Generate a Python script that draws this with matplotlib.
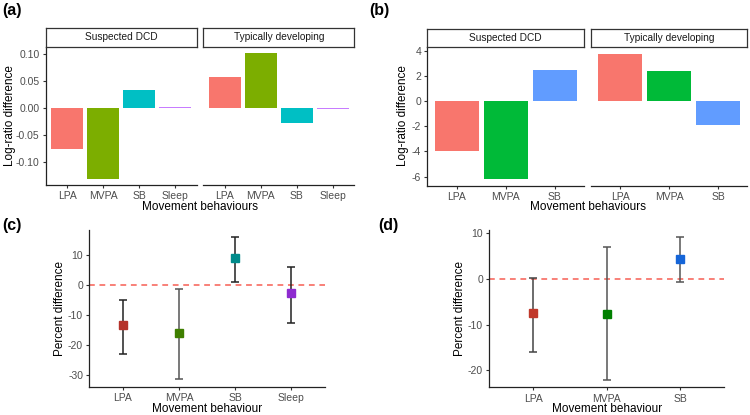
import numpy as np
import matplotlib
matplotlib.use("Agg")
import matplotlib.pyplot as plt

plt.rcParams['font.family'] = ['Liberation Sans', 'DejaVu Sans']
plt.rcParams['axes.unicode_minus'] = False

# --- data ---
groups = ["Suspected DCD", "Typically developing"]

a_cats = ["LPA", "MVPA", "SB", "Sleep"]
a_dcd = [-0.076, -0.1315, 0.0333, 0.0016]
a_td = [0.0585, 0.1024, -0.0278, -0.002]
a_colors = ["#F8766D", "#7CAE00", "#00BFC4", "#C77CFF"]

b_cats = ["LPA", "MVPA", "SB"]
b_dcd = [-3.98, -6.22, 2.44]
b_td = [3.76, 2.36, -1.91]
b_colors = ["#F8766D", "#00BA38", "#619CFF"]

c_cats = ["LPA", "MVPA", "SB", "Sleep"]
c_est = [-13.5, -16.2, 8.8, -2.9]
c_lo = [-22.9, -31.5, 1.0, -12.6]
c_hi = [-5.05, -1.4, 15.8, 6.0]
c_colors = ["#B5322A", "#3F7F00", "#008B8B", "#8E2BD0"]
c_bar_colors = ["#222222", "#555555", "#222222", "#222222"]

d_cats = ["LPA", "MVPA", "SB"]
d_est = [-7.5, -7.66, 4.44]
d_lo = [-15.9, -22.2, -0.58]
d_hi = [0.3, 7.07, 9.26]
d_colors = ["#C0392B", "#008000", "#1565D8"]
d_bar_colors = ["#444444", "#555555", "#555555"]

W, H = 750, 415
fig = plt.figure(figsize=(W / 100, H / 100), dpi=100)


def box(x0, y0, x1, y1):
    return [x0 / W, 1 - y1 / H, (x1 - x0) / W, (y1 - y0) / H]


def style(ax, left=True):
    for s in ["top", "right"]:
        ax.spines[s].set_visible(False)
    ax.spines["left"].set_visible(left)
    for s in ["left", "bottom"]:
        ax.spines[s].set_linewidth(0.9)
        ax.spines[s].set_color("#222222")
    ax.tick_params(length=2.5, width=0.8, color="#333333", labelsize=7.5,
                   labelcolor="#4D4D4D", pad=2)
    if not left:
        ax.tick_params(axis="y", left=False, labelleft=False)


def strip(x0, x1, y0, y1, label):
    s = fig.add_axes(box(x0, y0, x1, y1))
    s.set_xticks([]); s.set_yticks([])
    for sp in s.spines.values():
        sp.set_linewidth(0.9)
        sp.set_color("#333333")
    s.text(0.5, 0.5, label, ha="center", va="center", fontsize=7.3, color="#1A1A1A")


def facet_bars(x0, x1, y0, y1, cats, vals, colors, ylim, left):
    ax = fig.add_axes(box(x0, y0, x1, y1))
    x = np.arange(len(cats))
    ax.bar(x, vals, width=0.9, color=colors, edgecolor="none")
    ax.set_xlim(-0.6, len(cats) - 0.4)
    ax.set_ylim(*ylim)
    ax.set_xticks(x)
    ax.set_xticklabels(cats)
    style(ax, left)
    return ax


# (a)
ylim_a = (-0.142, 0.114)
ax = facet_bars(45.7, 196.7, 46.7, 185, a_cats, a_dcd, a_colors, ylim_a, True)
ax.set_yticks([-0.10, -0.05, 0.0, 0.05, 0.10])
ax.set_yticklabels(["%.2f" % v for v in [-0.10, -0.05, 0.0, 0.05, 0.10]])
facet_bars(203.3, 354.3, 46.7, 185, a_cats, a_td, a_colors, ylim_a, False)
strip(45.7, 196.7, 28.3, 46.7, groups[0])
strip(203.3, 354.3, 28.3, 46.7, groups[1])
fig.text(200 / W, 1 - 207 / H, "Movement behaviours", ha="center", va="center", fontsize=8.5)
fig.text(10 / W, 1 - 116 / H, "Log-ratio difference", ha="center", va="center",
         rotation=90, fontsize=8.5)
fig.text(2 / W, 1 - 11 / H, "(a)", ha="left", va="center", fontsize=11.5, fontweight="bold")

# (b)
ylim_b = (-6.73, 4.29)
ax = facet_bars(427.3, 584.3, 47, 185.7, b_cats, b_dcd, b_colors, ylim_b, True)
ax.set_yticks([-6, -4, -2, 0, 2, 4])
facet_bars(591, 747.3, 47, 185.7, b_cats, b_td, b_colors, ylim_b, False)
strip(427.3, 584.3, 29.3, 47, groups[0])
strip(591, 747.3, 29.3, 47, groups[1])
fig.text(587.5 / W, 1 - 207 / H, "Movement behaviours", ha="center", va="center", fontsize=8.5)
fig.text(403 / W, 1 - 116 / H, "Log-ratio difference", ha="center", va="center",
         rotation=90, fontsize=8.5)
fig.text(369 / W, 1 - 11 / H, "(b)", ha="left", va="center", fontsize=11.5, fontweight="bold")


def point_panel(x0, x1, y0, y1, cats, est, lo, hi, colors, ecols, ylim, yticks):
    ax = fig.add_axes(box(x0, y0, x1, y1))
    x = np.arange(len(cats))
    ax.axhline(0, color="#F8766D", linestyle=(0, (3.2, 2.6)), linewidth=1.3, zorder=1)
    for i in range(len(cats)):
        ax.errorbar(x[i], est[i],
                    yerr=[[est[i] - lo[i]], [hi[i] - est[i]]],
                    fmt="none", ecolor=ecols[i], elinewidth=1.1, capsize=3,
                    capthick=1.1, zorder=2)
        ax.plot(x[i], est[i], marker="s", markersize=6, color=colors[i],
                linestyle="none", zorder=3)
    ax.set_xlim(-0.6, len(cats) - 0.4)
    ax.set_ylim(*ylim)
    ax.set_xticks(x)
    ax.set_xticklabels(cats)
    ax.set_yticks(yticks)
    style(ax, True)
    return ax


# (c)
point_panel(89.3, 325, 230, 386.7, c_cats, c_est, c_lo, c_hi, c_colors, c_bar_colors,
            (-33.9, 18.2), [-30, -20, -10, 0, 10])
fig.text(207.5 / W, 1 - 409 / H, "Movement behaviour", ha="center", va="center", fontsize=8.5)
fig.text(60 / W, 1 - 308 / H, "Percent difference", ha="center", va="center",
         rotation=90, fontsize=8.5)
fig.text(2 / W, 1 - 225 / H, "(c)", ha="left", va="center", fontsize=11.5, fontweight="bold")

# (d)
point_panel(489.3, 724.3, 230, 387.3, d_cats, d_est, d_lo, d_hi, d_colors, d_bar_colors,
            (-23.7, 10.7), [-20, -10, 0, 10])
fig.text(607.5 / W, 1 - 409 / H, "Movement behaviour", ha="center", va="center", fontsize=8.5)
fig.text(460 / W, 1 - 308 / H, "Percent difference", ha="center", va="center",
         rotation=90, fontsize=8.5)
fig.text(378 / W, 1 - 225 / H, "(d)", ha="left", va="center", fontsize=11.5, fontweight="bold")

fig.savefig("out.png", dpi=100)
